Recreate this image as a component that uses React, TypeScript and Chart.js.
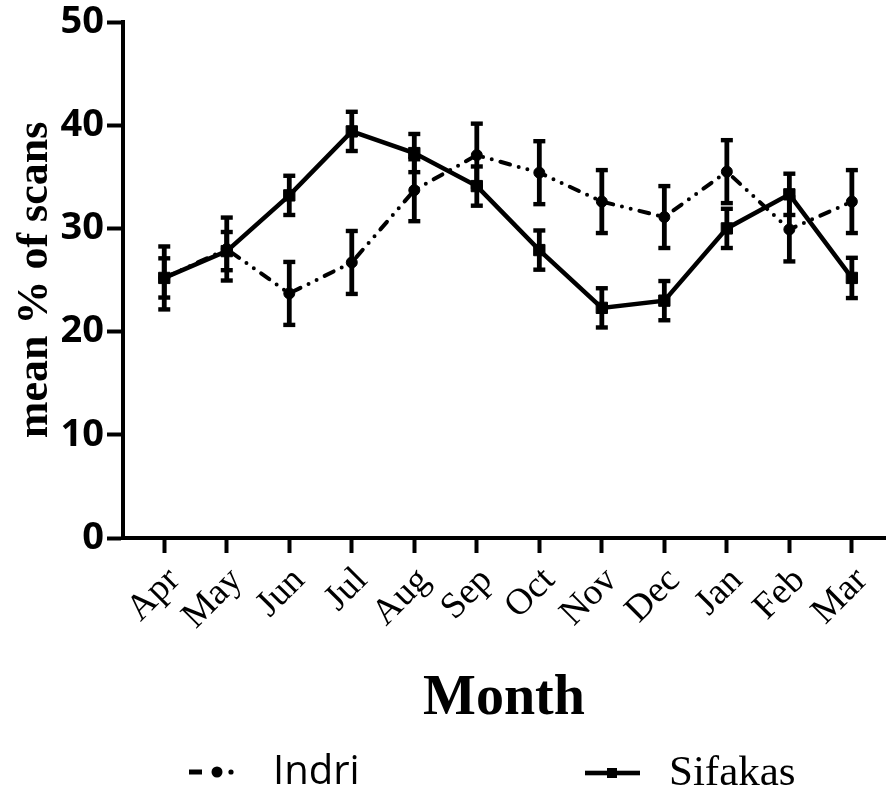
import { useEffect, useRef } from "react";
import { Chart, registerables } from "chart.js";

Chart.register(...registerables);

// Monthly mean % of scans (± SEM) for the two lemur species
const months = ["Apr", "May", "Jun", "Jul", "Aug", "Sep", "Oct", "Nov", "Dec", "Jan", "Feb", "Mar"];
const indriMean = [25.2, 28.0, 23.7, 26.7, 33.7, 37.1, 35.4, 32.6, 31.1, 35.5, 29.9, 32.6];
const indriErr = [3.05, 3.05, 3.05, 3.05, 3.0, 3.05, 3.05, 3.05, 3.0, 3.05, 3.1, 3.05];
const sifakaMean = [25.2, 27.8, 33.2, 39.4, 37.3, 34.1, 27.9, 22.3, 23.0, 30.0, 33.3, 25.2];
const sifakaErr = [1.9, 1.85, 1.9, 1.9, 1.85, 1.9, 1.9, 1.9, 1.9, 1.9, 2.0, 1.95];
const yTicks = [0, 10, 20, 30, 40, 50];
const seriesNames = ["Indri", "Sifakas"];

const errorsByDataset = [indriErr, sifakaErr];

// Vertical error bars with flat caps
const errorBarPlugin = {
  id: "errorBars",
  afterDatasetsDraw(chart: any) {
    const { ctx } = chart;
    const yScale = chart.scales.y;
    chart.data.datasets.forEach((ds: any, i: number) => {
      const meta = chart.getDatasetMeta(i);
      const errs = errorsByDataset[i];
      ctx.save();
      ctx.fillStyle = "#000";
      meta.data.forEach((pt: any, j: number) => {
        const m = ds.data[j].y;
        const e = errs[j];
        const top = yScale.getPixelForValue(m + e);
        const bot = yScale.getPixelForValue(m - e);
        ctx.fillRect(pt.x - 2.4, top, 4.8, bot - top);
        ctx.fillRect(pt.x - 6, top - 2.2, 12, 4.4);
        ctx.fillRect(pt.x - 6, bot - 2.2, 12, 4.4);
      });
      ctx.restore();
    });
  },
};

// Legend row under the axis title
const legendPlugin = {
  id: "bottomLegend",
  afterDraw(chart: any) {
    const { ctx } = chart;
    ctx.save();
    ctx.fillStyle = "#000";
    // Indri sample: dash, dot, small dot
    const y1 = 772;
    ctx.fillRect(189, y1 - 2.5, 13, 5);
    ctx.beginPath();
    ctx.arc(217, y1, 5.5, 0, Math.PI * 2);
    ctx.fill();
    ctx.beginPath();
    ctx.arc(231, y1, 2.6, 0, Math.PI * 2);
    ctx.fill();
    ctx.font = '40px "Open Sans", sans-serif';
    ctx.textBaseline = "middle";
    ctx.textAlign = "left";
    ctx.fillText(seriesNames[0], 273, y1 + 1);
    // Sifakas sample: line with square
    const y2 = 773;
    ctx.fillRect(585, y2 - 2.3, 55, 4.6);
    ctx.fillRect(607, y2 - 5, 10, 10);
    ctx.font = '43px "Liberation Serif", serif';
    ctx.fillText(seriesNames[1], 669, y2 + 1);
    ctx.restore();
  },
};

export default function App() {
  const canvasRef = useRef<HTMLCanvasElement | null>(null);

  useEffect(() => {
    document.body.style.margin = "0";
    const canvas = canvasRef.current;
    if (!canvas) return;

    const toPoints = (vals: number[]) => vals.map((v, i) => ({ x: i, y: v }));

    const chart = new Chart(canvas, {
      type: "line",
      data: {
        datasets: [
          {
            label: seriesNames[0],
            data: toPoints(indriMean),
            borderColor: "#000",
            backgroundColor: "#000",
            borderWidth: 4,
            borderDash: [10, 9, 0, 9, 0, 9],
            borderCapStyle: "round",
            pointStyle: "circle",
            pointRadius: 5.5,
            pointBorderWidth: 1,
            pointBackgroundColor: "#000",
            pointBorderColor: "#000",
            tension: 0,
            fill: false,
          },
          {
            label: seriesNames[1],
            data: toPoints(sifakaMean),
            borderColor: "#000",
            backgroundColor: "#000",
            borderWidth: 4.5,
            pointStyle: "rect",
            pointRadius: 8,
            pointBorderWidth: 1,
            pointBackgroundColor: "#000",
            pointBorderColor: "#000",
            tension: 0,
            fill: false,
          },
        ],
      },
      options: {
        animation: false,
        responsive: false,
        layout: { padding: { top: 20, right: 4, left: 0, bottom: 0 } },
        plugins: {
          legend: { display: false },
          tooltip: { enabled: false },
        },
        scales: {
          x: {
            type: "linear",
            min: -0.66,
            max: 11.53,
            afterFit: (s: any) => {
              s.height = 257;
            },
            afterBuildTicks: (s: any) => {
              s.ticks = months.map((_, i) => ({ value: i }));
            },
            ticks: {
              callback: (v: any) => months[v as number],
              minRotation: 45,
              maxRotation: 45,
              autoSkip: false,
              color: "#000",
              padding: 6,
              labelOffset: 10,
              font: { family: '"Liberation Serif", serif', size: 37 },
            },
            grid: {
              display: true,
              drawOnChartArea: false,
              drawTicks: true,
              tickLength: 15,
              tickWidth: 4,
              tickColor: "#000",
            },
            border: { display: true, width: 4, color: "#000" },
            title: {
              display: true,
              text: "Month",
              color: "#000",
              font: { family: '"Liberation Serif", serif', size: 56, weight: "bold" },
              padding: { top: 0, bottom: 62 },
            },
          },
          y: {
            min: 0,
            max: 50,
            afterFit: (s: any) => {
              s.width = 123;
            },
            afterBuildTicks: (s: any) => {
              s.ticks = yTicks.map((v) => ({ value: v }));
            },
            ticks: {
              color: "#000",
              padding: 3,
              font: { family: '"Open Sans", sans-serif', size: 38, weight: "bold", lineHeight: 1 },
            },
            grid: {
              display: true,
              drawOnChartArea: false,
              drawTicks: true,
              tickLength: 16,
              tickWidth: 4,
              tickColor: "#000",
            },
            border: { display: true, width: 4, color: "#000" },
            title: {
              display: true,
              text: "mean % of scans",
              color: "#000",
              font: { family: '"Liberation Serif", serif', size: 44, weight: "bold" },
              padding: { top: 9, bottom: 0 },
            },
          },
        },
      },
      plugins: [errorBarPlugin, legendPlugin],
    } as any);

    return () => chart.destroy();
  }, []);

  return (
    <div style={{ width: 894, height: 795 }}>
      <canvas ref={canvasRef} width={894} height={795} />
    </div>
  );
}
